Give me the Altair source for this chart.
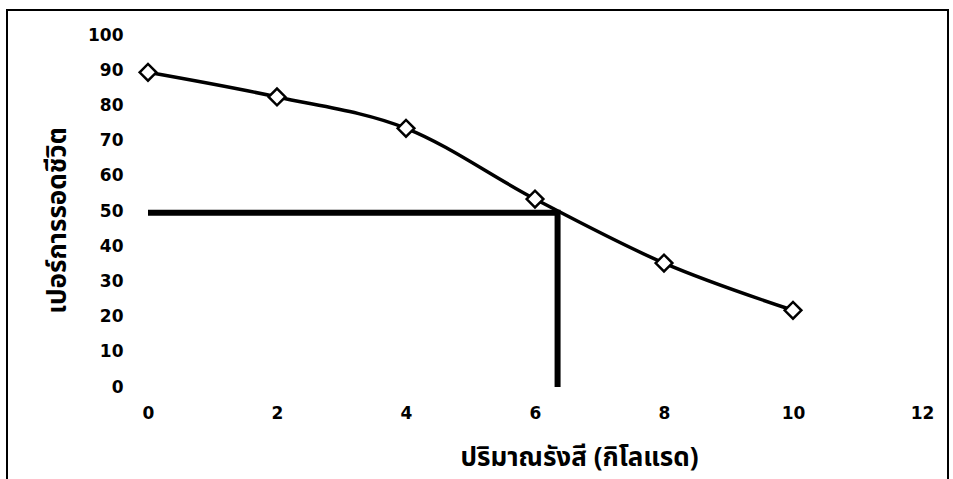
import altair as alt
import pandas as pd

# Survival curve data
dose = [0, 2, 4, 6, 8, 10]
survival = [89.4, 82.4, 73.5, 53.4, 35.2, 21.8]

# LD50 reading guide lines
guide_x = [0, 6.35, 6.35]
guide_y = [49.5, 49.5, 0]
guide_order = [0, 1, 2]

x_ticks = [0, 2, 4, 6, 8, 10, 12]
y_ticks = [0, 10, 20, 30, 40, 50, 60, 70, 80, 90, 100]

x_title = "ปริมาณรังสี (กิโลแรด)"
y_title = "เปอร์การรอดชีวิต"

df = pd.DataFrame({"dose": dose, "survival": survival})
gdf = pd.DataFrame({"x": guide_x, "y": guide_y, "o": guide_order})

TFONT = "Noto Sans Thai, Tahoma, DejaVu Sans, sans-serif"
LFONT = "DejaVu Sans"

xscale = alt.Scale(domain=[0, 12], nice=False)
yscale = alt.Scale(domain=[0, 100], nice=False)

common = dict(domain=False, ticks=False, tickSize=0, grid=False, format="d",
              labelOverlap=False, labelFlush=False, labelFontSize=17,
              labelFontWeight="bold", labelFont=LFONT, labelColor="black",
              titleFont=TFONT, titleFontSize=26, titleFontWeight="bold",
              titleColor="black", titleBaseline="middle", titleAnchor="middle")

xaxis = alt.Axis(values=x_ticks, title=x_title, labelPadding=18,
                 titleX=431, titleY=70, **common)
yaxis = alt.Axis(values=y_ticks, title=y_title, labelPadding=25,
                 titleX=-91, titleY=185, titleAngle=270, **common)

frame = alt.Chart(pd.DataFrame({"a": [0]})).mark_rect(
    fill=None, stroke="black", strokeWidth=2, clip=False
).encode(
    x=alt.value(-141), x2=alt.value(800), y=alt.value(-25), y2=alt.value(470)
)

guides = alt.Chart(gdf).mark_line(color="black", strokeWidth=6, strokeCap="butt",
                                   strokeJoin="miter").encode(
    x=alt.X("x:Q", scale=xscale, axis=xaxis),
    y=alt.Y("y:Q", scale=yscale, axis=yaxis),
    order="o:Q",
)

curve = alt.Chart(df).mark_line(color="black", strokeWidth=3.5, interpolate="monotone").encode(
    x=alt.X("dose:Q", scale=xscale, axis=xaxis),
    y=alt.Y("survival:Q", scale=yscale, axis=yaxis),
)

points = alt.Chart(df).mark_point(shape="diamond", size=280, filled=True, fill="white",
                                  stroke="black", strokeWidth=2.5, opacity=1).encode(
    x=alt.X("dose:Q", scale=xscale, axis=xaxis),
    y=alt.Y("survival:Q", scale=yscale, axis=yaxis),
)

chart = alt.layer(frame, guides, curve, points).properties(
    width=774, height=352,
    autosize=alt.AutoSizeParams(type="none"),
    padding={"left": 148, "top": 35, "right": 31, "bottom": 92},
    background="white",
).configure_view(stroke=None)

chart.save("out.html", embed_options={"renderer": "svg", "actions": False})
